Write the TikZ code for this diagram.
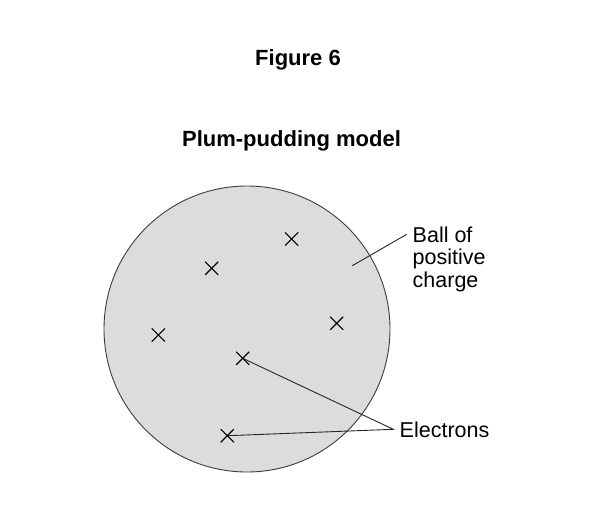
\documentclass[tikz,border=0pt]{standalone}
\usepackage{fontspec}
\setmainfont{Liberation Sans}
\usetikzlibrary{shapes.misc}
\definecolor{ballfill}{HTML}{DCDCDC}
\definecolor{ballline}{HTML}{3C3C3C}
\begin{document}
\begin{tikzpicture}[x=1pt,y=-1pt,
  electron/.style={cross out,draw=black,line width=1.1pt,minimum size=12pt,inner sep=0pt},
  lbl/.style={font=\fontsize{21.5}{22.5}\selectfont,inner sep=0pt,anchor=base west},
  ttl/.style={font=\fontsize{22}{24}\selectfont\bfseries,inner sep=0pt,anchor=base},
  leader/.style={draw=black!85,line width=0.9pt}]
\useasboundingbox (0,0) rectangle (610,517);
\node[ttl] (fig) at (298,65) {Figure 6};
\node[ttl] (model) at (291.5,146.7) {Plum-pudding model};
\node[circle,draw=ballline,fill=ballfill,line width=0.9pt,minimum size=286pt,inner sep=0pt] (ball) at (247,329) {};
\node[electron] (e1) at (291.7,239) {};
\node[electron] (e2) at (211.7,268.3) {};
\node[electron] (e3) at (158.3,335) {};
\node[electron] (e4) at (336.7,323.3) {};
\node[electron] (e5) at (242.7,358.3) {};
\node[electron] (e6) at (227.3,435.7) {};
\node[lbl] (b1) at (412.5,242) {Ball of};
\node[lbl] (b2) at (412.5,264.5) {positive};
\node[lbl] (b3) at (412.5,287) {charge};
\coordinate (bin) at (352.3,265.7);
\coordinate (bout) at (406.7,234.3);
\draw[leader] (bin) -- (bout);
\node[lbl] (el) at (399.5,437.3) {Electrons};
\coordinate (ej) at (393.3,429.3);
\draw[leader] (e5.center) -- (ej) -- (e6.center);
\end{tikzpicture}
\end{document}
